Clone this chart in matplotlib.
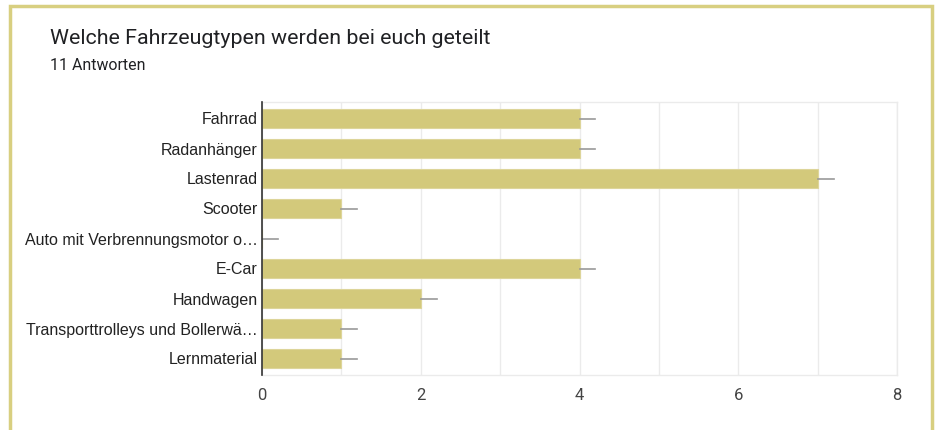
import matplotlib
matplotlib.use("Agg")
import matplotlib.pyplot as plt
from matplotlib.patches import Rectangle

categories = ["Fahrrad", "Radanhänger", "Lastenrad", "Scooter",
              "Auto mit Verbrennungsmotor o…", "E-Car", "Handwagen",
              "Transporttrolleys und Bollerwä…", "Lernmaterial"]
values = [4, 4, 7, 1, 0, 4, 2, 1, 1]
xticks = [0, 2, 4, 6, 8]

fig = plt.figure(figsize=(9.38, 4.30), dpi=100)
fig.patch.set_facecolor("white")

# card border
fig.patches.append(Rectangle((10/938, -0.05), (932-10)/938, 1.05 - 6/430,
                             transform=fig.transFigure, fill=False,
                             edgecolor="#d8cf80", linewidth=2.5, zorder=0))

fig.text(50/938, 1-38/430, "Welche Fahrzeugtypen werden bei euch geteilt",
         fontsize=15.4, family="Roboto", color="#202124", va="center")
fig.text(50/938, 1-66/430, "11 Antworten", fontsize=11.4, family="Roboto",
         color="#202124", va="center")

ax = fig.add_axes([262/938, 1-375/430, (897-262)/938, (375-102)/430])
ypos = list(range(len(categories)))
ax.barh(ypos, values, height=0.66, color="#d3c97b", edgecolor="#ddd59a",
        linewidth=0.8, zorder=2)
for y, v in zip(ypos, values):
    ax.plot([v, v + 0.2], [y, y], color="#999999", linewidth=1.2, zorder=3)

ax.set_xlim(0, 8)
ax.set_ylim(8.55, -0.55)
ax.set_yticks(ypos)
ax.set_yticklabels(categories, family="Liberation Sans", fontsize=11.5, color="#222222")
ax.set_xticks(xticks)
ax.set_xticklabels([str(t) for t in xticks], family="Roboto",
                   fontsize=12, color="#444444")
ax.set_xticks(range(0, 9), minor=True)
ax.grid(axis="x", which="both", color="#ebebeb", linewidth=1, zorder=0)
ax.tick_params(axis="both", which="both", length=0)
ax.tick_params(axis="x", pad=9)
ax.tick_params(axis="y", pad=3)
for s in ["top", "right", "bottom"]:
    ax.spines[s].set_color("#ebebeb")
    ax.spines[s].set_linewidth(1)
ax.spines["left"].set_color("#333333")
ax.spines["left"].set_linewidth(1.2)
ax.spines["left"].set_zorder(4)

fig.savefig("out.png", dpi=100)
